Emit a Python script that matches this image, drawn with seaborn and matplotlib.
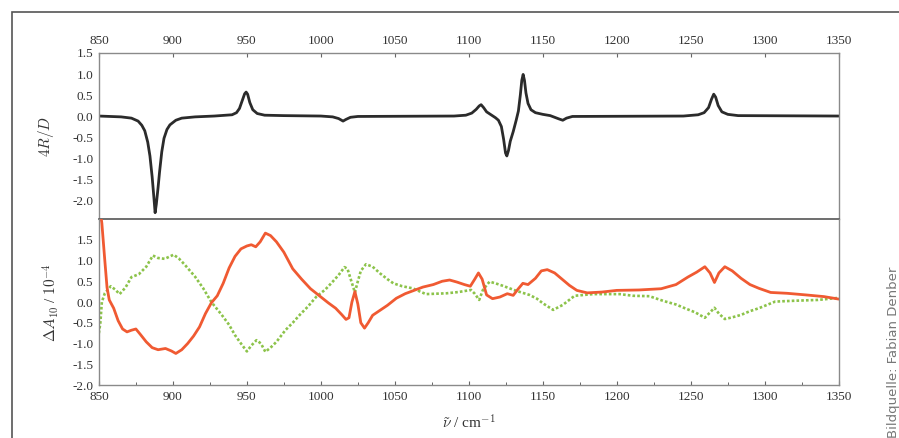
import numpy as np
import matplotlib
matplotlib.use("Agg")
import matplotlib.pyplot as plt
import seaborn as sns
from matplotlib.patches import Rectangle
from matplotlib.ticker import MultipleLocator

sns.set_theme(style="white")
plt.rcParams["font.family"] = ["Liberation Serif", "DejaVu Serif"]
plt.rcParams["mathtext.fontset"] = "cm"

# --- top panel: 4R/D ---
x_top = [850, 865, 872, 876.5, 879, 881, 883, 884.5, 886, 887.2, 888, 888.8, 890, 891, 892.5, 894, 896, 898, 902, 906, 915, 928,
         940, 943, 945, 947, 948.5, 949.5, 950.5, 952, 954, 957, 962, 975,
         1000, 1008, 1012, 1015, 1017, 1020, 1025,
         1090, 1098, 1102, 1105, 1107, 1108.3, 1110, 1112, 1115, 1118, 1120, 1122, 1123.5, 1124.8, 1125.7,
         1126.8, 1128, 1130, 1132, 1133.5, 1134.8, 1135.8, 1136.7, 1137.6, 1138.6, 1140, 1142, 1145,
         1150, 1155, 1158, 1161, 1163.5, 1166, 1170,
         1245, 1255, 1259, 1262, 1264, 1265.5, 1266.8, 1268.5, 1271, 1275, 1282, 1350]
y_top = [0.0, -0.02, -0.05, -0.12, -0.22, -0.35, -0.62, -0.95, -1.45, -1.95, -2.3, -2.1, -1.7, -1.33, -0.85, -0.53, -0.32, -0.21, -0.1, -0.05, -0.02, 0.0,
         0.03, 0.08, 0.18, 0.38, 0.53, 0.57, 0.52, 0.32, 0.15, 0.06, 0.02, 0.01,
         0.0, -0.02, -0.06, -0.12, -0.08, -0.03, -0.01,
         0.0, 0.02, 0.07, 0.16, 0.24, 0.27, 0.2, 0.1, 0.03, -0.04, -0.1, -0.25, -0.55, -0.88, -0.95,
         -0.82, -0.6, -0.37, -0.1, 0.12, 0.5, 0.85, 0.99, 0.85, 0.55, 0.3, 0.15, 0.08,
         0.04, 0.01, -0.03, -0.07, -0.1, -0.05, -0.01,
         0.0, 0.03, 0.08, 0.2, 0.4, 0.52, 0.45, 0.25, 0.1, 0.04, 0.01, 0.0]

# --- bottom panel: delta A10 (red and green) ---
x_red = [850, 852, 854, 855.5, 857, 860, 863, 866, 869, 872, 875, 878, 882, 886, 890, 895, 899, 902,
         906, 910, 914, 918, 922, 926, 930, 934, 938, 942, 946, 950, 953, 956, 959, 962.5, 966, 970,
         975, 981, 987, 993, 999, 1005, 1010, 1014, 1017, 1019, 1021, 1023, 1025, 1027, 1029.5, 1032,
         1035, 1040, 1045, 1051, 1057, 1063, 1069, 1076, 1082, 1087, 1092, 1097, 1101, 1104, 1106.5,
         1109, 1112, 1116, 1121, 1126, 1130, 1133, 1136.5, 1140, 1145, 1149, 1153, 1158, 1163, 1168,
         1173, 1180, 1190, 1200, 1215, 1230, 1240, 1248, 1254, 1259.5, 1263, 1266, 1269, 1273, 1278,
         1284, 1290, 1296, 1304, 1315, 1328, 1340, 1350]
y_red = [2.4, 1.9, 1.0, 0.35, 0.05, -0.15, -0.45, -0.65, -0.72, -0.68, -0.65, -0.78, -0.96, -1.1, -1.15, -1.12, -1.18, -1.24,
         -1.15, -1.0, -0.82, -0.6, -0.28, -0.02, 0.15, 0.45, 0.82, 1.1, 1.28, 1.35, 1.38, 1.33, 1.45, 1.66, 1.6, 1.45,
         1.2, 0.8, 0.55, 0.32, 0.15, -0.02, -0.15, -0.3, -0.42, -0.38, 0.0, 0.25, -0.05, -0.5, -0.63, -0.5,
         -0.32, -0.2, -0.08, 0.09, 0.2, 0.28, 0.36, 0.42, 0.5, 0.53, 0.48, 0.42, 0.38, 0.55, 0.7,
         0.55, 0.17, 0.08, 0.12, 0.2, 0.16, 0.3, 0.45, 0.42, 0.57, 0.75, 0.78, 0.7, 0.55, 0.4,
         0.28, 0.22, 0.24, 0.28, 0.29, 0.32, 0.42, 0.6, 0.72, 0.85, 0.7, 0.47, 0.7, 0.85, 0.75,
         0.57, 0.42, 0.33, 0.23, 0.21, 0.17, 0.13, 0.07]

x_grn = [850, 851, 852, 854, 858, 861, 864, 868, 872, 877, 882, 886.5, 890, 894.5, 900.5, 904, 908,
         915, 920.5, 926, 933, 938, 942, 946, 950, 953, 956.5, 959.5, 962.5, 966, 970, 976, 981, 986,
         991, 997, 1003, 1008, 1012, 1016, 1018, 1020, 1023, 1025, 1027, 1030.5, 1035, 1040, 1045,
         1049, 1055, 1062, 1071, 1078, 1085, 1093, 1101.5, 1104, 1107, 1109.5, 1114, 1118, 1123, 1132,
         1141, 1146, 1150, 1157, 1163.5, 1171.5, 1184, 1202, 1211, 1222, 1232, 1240, 1246, 1253,
         1259.5, 1263, 1266, 1269, 1273, 1278, 1284, 1290, 1296, 1307, 1320, 1336, 1350]
y_grn = [-0.75, -0.5, 0.0, 0.21, 0.38, 0.3, 0.19, 0.35, 0.6, 0.67, 0.85, 1.12, 1.06, 1.04, 1.14, 1.05, 0.9,
         0.61, 0.33, 0.0, -0.31, -0.55, -0.8, -1.0, -1.19, -1.05, -0.92, -1.0, -1.2, -1.1, -0.96, -0.68, -0.5, -0.3,
         -0.12, 0.13, 0.3, 0.49, 0.65, 0.84, 0.8, 0.57, 0.23, 0.5, 0.75, 0.91, 0.85, 0.69, 0.55,
         0.45, 0.38, 0.33, 0.19, 0.2, 0.21, 0.24, 0.29, 0.2, 0.05, 0.29, 0.49, 0.45, 0.39, 0.27,
         0.17, 0.08, -0.03, -0.19, -0.07, 0.15, 0.19, 0.19, 0.15, 0.14, 0.02, -0.06, -0.15, -0.25,
         -0.38, -0.25, -0.14, -0.28, -0.41, -0.37, -0.31, -0.22, -0.15, 0.01, 0.03, 0.05, 0.1]

assert len(x_top) == len(y_top), (len(x_top), len(y_top))
assert len(x_red) == len(y_red), (len(x_red), len(y_red))
assert len(x_grn) == len(y_grn), (len(x_grn), len(y_grn))

xticks = np.arange(850, 1351, 50)
frame_col = "#8a8a8a"

fig = plt.figure(figsize=(8.99, 4.38), dpi=100)
ax1 = fig.add_axes([0.110, 0.500, 0.823, 0.379])
ax2 = fig.add_axes([0.110, 0.121, 0.823, 0.379])
ax2.patch.set_alpha(0)

# outer frame
fig.patches.append(Rectangle((12 / 899, -0.1), 1.0, 1 - 12 / 438 + 0.1, transform=fig.transFigure,
                             fill=False, edgecolor="#555555", linewidth=1.2))

sns.lineplot(x=x_top, y=y_top, ax=ax1, color="#2b2b2b", linewidth=2.0, sort=False, legend=False)
sns.lineplot(x=x_grn, y=y_grn, ax=ax2, color="#8cc34a", linewidth=1.9, linestyle=(0, (1, 0.8)),
             sort=False, legend=False)
sns.lineplot(x=x_red, y=y_red, ax=ax2, color="#f05a32", linewidth=2.0, sort=False, legend=False)

for ax in (ax1, ax2):
    ax.set_xlim(850, 1350)
    ax.set_xticks(xticks)
    for s in ax.spines.values():
        s.set_color(frame_col)
        s.set_linewidth(1.0)
    ax.tick_params(direction="in", length=3, width=0.8, color="#666666", labelsize=9.5,
                   labelcolor="#333333", pad=4)
    ax.tick_params(which="minor", direction="in", length=2, width=0.7, color="#666666")

ax1.set_ylim(-2.45, 1.5)
ax1.set_yticks(np.arange(-2.0, 1.51, 0.5))
ax1.set_yticklabels([f"{v:.1f}" for v in np.arange(-2.0, 1.51, 0.5)])
ax1.xaxis.tick_top()
ax1.xaxis.set_label_position("top")
ax1.tick_params(axis="x", top=True, bottom=False, labeltop=True, labelbottom=False)
ax1.set_xlabel("")
ax1.set_ylabel("$4R/D$", fontsize=11, color="#333333", labelpad=12)
ax1.spines["bottom"].set_color("#555555")
ax1.spines["bottom"].set_linewidth(1.2)

ax2.set_ylim(-2.0, 2.0)
ax2.set_yticks(np.arange(-2.0, 1.51, 0.5))
ax2.set_yticklabels([f"{v:.1f}" for v in np.arange(-2.0, 1.51, 0.5)])
ax2.xaxis.set_minor_locator(MultipleLocator(25))
ax2.tick_params(axis="x", which="both", bottom=True, top=False)
ax2.set_xlabel(r"$\tilde{\nu}$ / cm$^{-1}$", fontsize=11, color="#333333", labelpad=8)
ax2.set_ylabel(r"$\Delta A_{10}$ / $10^{-4}$", fontsize=11, color="#333333", labelpad=8)
ax2.spines["top"].set_visible(False)

fig.text(0.994, 0.0, "Bildquelle: Fabian Denber", rotation=90, ha="center", va="bottom",
         fontsize=9.5, color="#777777", family=["DejaVu Sans"])

fig.savefig("out.png", dpi=100)
